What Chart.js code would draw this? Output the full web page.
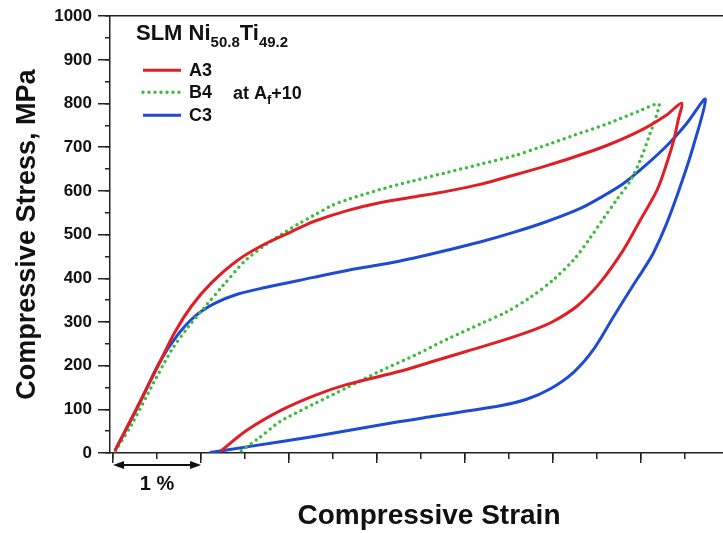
<!DOCTYPE html>
<html>
<head>
<meta charset="utf-8">
<script src="https://cdn.jsdelivr.net/npm/chart.js@4.4.1/dist/chart.umd.min.js"></script>
<style>
  html, body { margin: 0; padding: 0; overflow: hidden; background: #fff; }
  canvas { display: block; }
</style>
</head>
<body>
<canvas id="loopChart" width="748" height="533"></canvas>
<script>
// strain in %, stress in MPa (loading then unloading)
const a3Strain = [0.02, 0.28, 0.51, 0.70, 0.89, 1.12, 1.42, 1.73, 2.03, 2.28, 2.66, 3.03, 3.41, 3.79, 4.17, 4.55, 4.93, 5.23, 5.61, 5.99, 6.29, 6.46,
                  6.42, 6.37, 6.29, 6.18, 5.99, 5.80, 5.53, 5.27, 5.00, 4.78, 4.40, 4.02, 3.64, 3.26, 2.66, 2.28, 1.90, 1.52, 1.22];
const a3Stress = [5, 107, 199, 276, 336, 390, 442, 479, 507, 530, 555, 573, 586, 599, 615, 636, 658, 677, 704, 738, 774, 801,
                  761, 715, 662, 601, 533, 465, 389, 336, 301, 282, 256, 233, 210, 187, 157, 131, 97, 52, 4];

const b4Strain = [0.03, 0.23, 0.44, 0.67, 0.86, 1.05, 1.24, 1.50, 1.73, 1.95, 2.12, 2.28, 2.47, 2.66, 3.03, 3.41, 3.79, 4.17, 4.55, 4.85, 5.23, 5.61, 5.99, 6.20,
                  6.18, 6.10, 5.99, 5.88, 5.72, 5.57, 5.42, 5.25, 5.00, 4.74, 4.47, 4.19, 3.81, 3.43, 3.03, 2.66, 2.28, 1.90, 1.65, 1.44];
const b4Stress = [5, 72, 153, 237, 290, 336, 381, 440, 476, 505, 526, 544, 565, 580, 603, 623, 642, 661, 680, 700, 727, 753, 784, 799,
                  776, 730, 670, 624, 579, 536, 492, 446, 396, 356, 323, 297, 262, 224, 187, 150, 112, 72, 33, 3];

const c3Strain = [0.02, 0.28, 0.52, 0.74, 0.93, 1.16, 1.42, 1.73, 2.28, 2.66, 3.03, 3.41, 3.79, 4.17, 4.55, 4.93, 5.31, 5.55, 5.80, 6.06, 6.30, 6.52, 6.73,
                  6.59, 6.44, 6.29, 6.14, 6.02, 5.91, 5.69, 5.46, 5.23, 4.97, 4.70, 4.40, 4.02, 3.64, 3.26, 2.28, 1.52, 1.10];
const c3Stress = [5, 105, 205, 272, 313, 343, 364, 379, 402, 418, 431, 446, 464, 483, 505, 530, 560, 586, 617, 660, 705, 755, 810,
                  700, 607, 525, 458, 418, 384, 313, 237, 184, 147, 123, 108, 96, 84, 72, 38, 14, 1];

const seriesNames = ["A3", "B4", "C3"];
const seriesColors = ["#e01e26", "#3dbb3d", "#1f4bd2"];
const stressTicks = [0, 100, 200, 300, 400, 500, 600, 700, 800, 900, 1000];

const FONT = '"Liberation Sans", Arial, sans-serif';
const AXIS = "#222";
const strainMin = -0.035, strainMax = 7.215;

const toPoints = (xs, ys) => xs.map((v, i) => ({ x: v, y: ys[i] }));

// legend + "1 %" scale bar
const annotations = {
    id: "annotations",
    afterDraw(chart) {
        const ctx = chart.ctx;
        const area = chart.chartArea;
        ctx.save();
        ctx.fillStyle = "#111";
        ctx.textBaseline = "alphabetic";

        // title with subscripts
        let tx = area.left + 26;
        const ty = area.top + 24;
        const parts = [["SLM Ni", false], ["50.8", true], ["Ti", false], ["49.2", true]];
        parts.forEach(([t, sub]) => {
            ctx.font = sub ? `bold 15px ${FONT}` : `bold 22px ${FONT}`;
            ctx.fillText(t, tx, ty + (sub ? 7 : 0));
            tx += ctx.measureText(t).width;
        });

        // entries
        const rows = [area.top + 54, area.top + 76, area.top + 99];
        rows.forEach((ry, i) => {
            ctx.beginPath();
            ctx.strokeStyle = seriesColors[i];
            ctx.lineWidth = i === 1 ? 3.5 : 3;
            ctx.lineCap = i === 1 ? "round" : "butt";
            ctx.setLineDash(i === 1 ? [0, 6] : []);
            ctx.moveTo(area.left + 33, ry);
            ctx.lineTo(area.left + 71, ry);
            ctx.stroke();
            ctx.setLineDash([]);
            ctx.font = `bold 18px ${FONT}`;
            ctx.textBaseline = "middle";
            ctx.fillText(seriesNames[i], area.left + 79, ry + 1);
        });
        // "at Af+10"
        ctx.textBaseline = "alphabetic";
        let ax = area.left + 123;
        const ay = rows[1] + 7;
        [["at A", false], ["f", true], ["+10", false]].forEach(([t, sub]) => {
            ctx.font = sub ? `bold 13px ${FONT}` : `bold 18px ${FONT}`;
            ctx.fillText(t, ax, ay + (sub ? 5 : 0));
            ax += ctx.measureText(t).width;
        });

        // scale bar: 0 -> 1 % strain
        const xs = chart.scales.x;
        const x0 = xs.getPixelForValue(0), x1 = xs.getPixelForValue(1);
        const by = area.bottom + 12;
        ctx.strokeStyle = "#111";
        ctx.lineWidth = 2;
        ctx.beginPath();
        ctx.moveTo(x0 + 6, by);
        ctx.lineTo(x1 - 6, by);
        ctx.stroke();
        ctx.beginPath();
        ctx.moveTo(x0, by); ctx.lineTo(x0 + 11, by - 4); ctx.lineTo(x0 + 11, by + 4); ctx.closePath();
        ctx.moveTo(x1, by); ctx.lineTo(x1 - 11, by - 4); ctx.lineTo(x1 - 11, by + 4); ctx.closePath();
        ctx.fill();
        ctx.font = `bold 20px ${FONT}`;
        ctx.textAlign = "center";
        ctx.textBaseline = "middle";
        ctx.fillText("1 %", (x0 + x1) / 2, by + 19);
        ctx.restore();
    }
};

const ctx = document.getElementById("loopChart").getContext("2d");

new Chart(ctx, {
    type: "scatter",
    data: {
        datasets: [
            {
                label: seriesNames[0],
                data: toPoints(a3Strain, a3Stress),
                borderColor: seriesColors[0],
                borderWidth: 3
            },
            {
                label: seriesNames[1],
                data: toPoints(b4Strain, b4Stress),
                borderColor: seriesColors[1],
                borderWidth: 3.5,
                borderDash: [0, 6],
                borderCapStyle: "round"
            },
            {
                label: seriesNames[2],
                data: toPoints(c3Strain, c3Stress),
                borderColor: seriesColors[2],
                borderWidth: 3
            }
        ].map(d => Object.assign({ showLine: true, pointRadius: 0, tension: 0.3, fill: false }, d))
    },
    options: {
        responsive: false,
        animation: false,
        layout: { padding: { left: 0, top: 15, right: 0, bottom: 0 } },
        plugins: { legend: { display: false }, tooltip: { enabled: false } },
        scales: {
            x: {
                type: "linear", position: "bottom", weight: 1,
                min: strainMin, max: strainMax,
                afterFit: s => { s.height = 80; },
                ticks: { display: false, stepSize: 1, includeBounds: false },
                grid: { drawOnChartArea: false, tickLength: 10, color: AXIS, lineWidth: 1.5 },
                border: { color: AXIS, width: 1.5 },
                title: {
                    display: true, text: "Compressive Strain", color: "#111", padding: 0,
                    font: { family: FONT, size: 28, weight: "bold" }
                }
            },
            xMinor: {
                type: "linear", position: "bottom", weight: 0,
                min: strainMin, max: strainMax,
                afterFit: s => { s.height = 0; },
                ticks: { display: false, stepSize: 0.5, includeBounds: false },
                grid: { drawOnChartArea: false, tickLength: 6, color: AXIS, lineWidth: 1.5 },
                border: { display: false }
            },
            xTop: {
                type: "linear", position: "top",
                min: strainMin, max: strainMax,
                afterFit: s => { s.height = 0; },
                ticks: { display: false },
                grid: { display: false },
                border: { color: AXIS, width: 1.5 }
            },
            y: {
                type: "linear", position: "left", weight: 1,
                min: 0, max: 1000,
                afterFit: s => { s.width = 110; },
                afterBuildTicks: axis => { axis.ticks = stressTicks.map(v => ({ value: v })); },
                ticks: {
                    color: "#111", padding: 6,
                    font: { family: FONT, size: 17, weight: "bold" },
                    callback: v => String(v)
                },
                grid: { drawOnChartArea: false, tickLength: 12, color: AXIS, lineWidth: 1.5 },
                border: { color: AXIS, width: 1.5 },
                title: {
                    display: true, text: "Compressive Stress, MPa", color: "#111",
                    padding: { top: 11, bottom: 0 },
                    font: { family: FONT, size: 27, weight: "bold" }
                }
            },
            yMinor: {
                type: "linear", position: "left", weight: 0,
                min: 0, max: 1000,
                afterFit: s => { s.width = 0; },
                ticks: { display: false, stepSize: 50 },
                grid: { drawOnChartArea: false, tickLength: 5, color: AXIS, lineWidth: 1.5 },
                border: { display: false }
            }
        }
    },
    plugins: [annotations]
});
</script>
</body>
</html>
